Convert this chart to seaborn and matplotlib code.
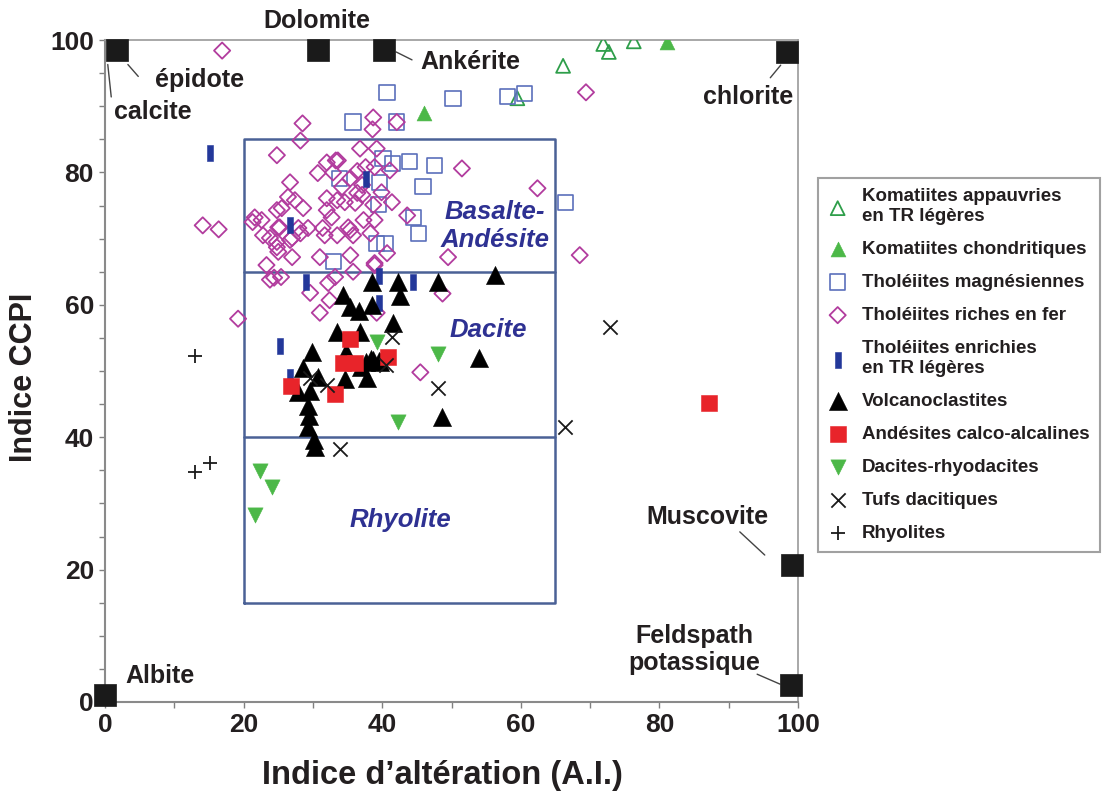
import matplotlib
matplotlib.use("Agg")
import matplotlib.pyplot as plt
import seaborn as sns
import pandas as pd
from matplotlib.ticker import MultipleLocator

# ---------------- data (Indice d'altération, Indice CCPI) ----------------
kom_app_x = [71.9, 72.7, 76.3, 66.1, 59.5]
kom_app_y = [99.4, 98.2, 99.8, 96.1, 91.2]

kom_chon_x = [81.1, 46.0]
kom_chon_y = [99.7, 89.0]

thol_mg_x = [40.1, 41.5, 43.9, 47.6, 45.9, 39.6, 39.5, 44.5, 45.2, 39.2,
             40.4, 33.0, 33.8, 66.4, 35.8, 42.1, 40.7, 50.2, 58.1, 60.5]
thol_mg_y = [82.1, 81.4, 81.7, 81.1, 77.9, 78.5, 75.1, 73.2, 70.8, 69.3,
             69.3, 66.5, 79.1, 75.4, 87.6, 87.6, 92.1, 91.2, 91.5, 91.9]

thol_fe_x = [16.9, 69.4, 51.5, 62.4, 68.5, 19.2, 14.1, 16.4, 45.5, 48.7,
             28.5, 38.7, 38.6, 42.1, 28.2, 36.8, 39.2, 24.8, 32.0, 33.6,
             30.7, 32.9, 36.4, 37.6, 38.9, 41.1, 35.4, 37.1, 34.2, 39.9,
             26.7, 26.4, 27.4, 28.6, 32.0, 33.5, 34.6, 36.4, 37.1, 36.1,
             38.7, 41.4, 32.0, 32.7, 24.8, 25.5, 21.6, 22.6, 21.3, 25.2,
             27.9, 29.3, 31.4, 35.1, 37.3, 38.9, 43.6, 22.8, 23.8, 24.8,
             27.0, 28.2, 31.7, 33.5, 35.4, 35.8, 38.3, 24.8, 25.0, 27.0,
             31.0, 35.4, 38.9, 40.7, 49.5, 23.3, 23.8, 24.4, 25.4, 32.2,
             33.2, 35.8, 32.4, 31.0, 29.6, 39.2, 38.9, 33.3, 26.7, 25.0]
thol_fe_y = [98.4, 92.1, 80.6, 77.6, 67.5, 57.9, 72.0, 71.4, 49.8, 61.7,
             87.4, 88.3, 86.5, 87.6, 84.8, 83.6, 83.6, 82.6, 81.5, 81.8,
             79.9, 80.0, 80.2, 80.8, 80.8, 80.3, 79.1, 78.1, 77.8, 77.0,
             78.5, 76.3, 75.8, 74.6, 76.1, 75.8, 75.5, 76.9, 76.6, 75.4,
             75.1, 75.5, 74.3, 73.2, 74.3, 74.6, 73.2, 72.8, 72.5, 71.7,
             71.6, 71.6, 71.6, 71.7, 72.8, 72.8, 73.5, 70.5, 70.1, 69.5,
             70.1, 70.8, 70.5, 70.5, 71.3, 70.5, 70.8, 68.7, 68.0, 67.2,
             67.2, 67.5, 66.3, 67.8, 67.2, 66.0, 63.8, 64.1, 64.2, 63.3,
             64.2, 65.0, 60.7, 58.8, 61.8, 58.8, 66.0, 81.8, 69.8, 71.7]

thol_tr_x = [15.2, 26.7, 37.6, 29.0, 39.5, 44.4, 39.5, 25.2, 26.7]
thol_tr_y = [82.9, 72.1, 79.0, 63.5, 64.4, 63.5, 60.2, 53.8, 49.1]

volc_x = [38.5, 42.3, 48.1, 56.3, 42.6, 34.4, 35.4, 36.7, 38.5, 33.5,
          36.8, 41.6, 29.9, 28.6, 30.7, 29.6, 27.9, 34.6, 37.8, 38.4,
          39.5, 37.0, 53.9, 48.6, 29.3, 29.4, 29.3, 30.1, 30.3, 34.8,
          37.7, 38.7, 39.7]
volc_y = [63.5, 63.5, 63.5, 64.5, 61.3, 61.5, 59.7, 59.1, 60.0, 55.9,
          55.9, 57.2, 52.9, 50.5, 49.1, 47.0, 46.9, 48.8, 49.0, 51.8,
          51.5, 50.6, 51.9, 43.1, 44.7, 43.2, 41.5, 39.6, 38.5, 52.9,
          51.4, 51.7, 51.4]

and_x = [26.9, 33.2, 34.4, 36.1, 35.4, 40.9, 87.1]
and_y = [47.7, 46.6, 51.2, 51.2, 54.8, 52.1, 45.1]

dac_x = [39.2, 48.1, 42.3, 22.4, 24.1, 21.6]
dac_y = [54.4, 52.5, 42.3, 34.9, 32.5, 28.2]

tuf_x = [41.4, 40.6, 32.0, 29.6, 48.1, 33.9, 72.8, 66.4]
tuf_y = [55.2, 50.9, 47.9, 48.9, 47.4, 38.2, 56.6, 41.6]

rhy_x = [13.0, 13.0, 15.1]
rhy_y = [52.3, 34.8, 36.1]

# end-member minerals
mineral_names = ["Albite", "calcite / épidote", "Dolomite", "Ankérite",
                 "chlorite", "Muscovite", "Feldspath potassique"]
mineral_x = [0.0, 1.7, 30.7, 40.3, 98.4, 99.1, 99.0]
mineral_y = [1.1, 98.5, 98.5, 98.5, 98.2, 20.7, 2.6]

# field boundaries
field_x = [20, 65]
field_y = [15, 40, 65, 85]
field_names = ["Basalte-\nAndésite", "Dacite", "Rhyolite"]

x_ticks = [0, 20, 40, 60, 80, 100]
y_ticks = [0, 20, 40, 60, 80, 100]

# ---------------- style ----------------
sns.set_theme(style="white")
plt.rcParams["font.family"] = ["Liberation Sans", "DejaVu Sans"]
plt.rcParams["font.weight"] = "bold"

fig = plt.figure(figsize=(11.03, 7.97), dpi=100)
ax = fig.add_axes([0.0952, 0.1192, 0.6283, 0.8306])

field_col = "#4a6196"
txt_blue = "#2e3192"
gx, gy = field_x, field_y
ax.plot([gx[0], gx[1], gx[1], gx[0], gx[0]], [gy[0], gy[0], gy[3], gy[3], gy[0]],
        color=field_col, lw=1.8, zorder=1)
for yy in gy[1:3]:
    ax.plot(gx, [yy, yy], color=field_col, lw=1.8, zorder=1)

bar_marker = [(-0.22, -0.5), (0.22, -0.5), (0.22, 0.5), (-0.22, 0.5), (-0.22, -0.5)]
series = [
    ("Komatiites appauvries\nen TR légères", kom_app_x, kom_app_y, "^", "#2e9e4a", 100, False, 1.3),
    ("Komatiites chondritiques", kom_chon_x, kom_chon_y, "^", "#4cb848", 115, True, 0),
    ("Tholéiites magnésiennes", thol_mg_x, thol_mg_y, "s", "#5b6fbb", 120, False, 1.2),
    ("Tholéiites riches en fer", thol_fe_x, thol_fe_y, "D", "#b23c9e", 68, False, 1.3),
    ("Tholéiites enrichies\nen TR légères", thol_tr_x, thol_tr_y, bar_marker, "#23389a", 120, True, 0),
    ("Volcanoclastites", volc_x, volc_y, "^", "#000000", 170, True, 0),
    ("Andésites calco-alcalines", and_x, and_y, "s", "#e8242a", 130, True, 0),
    ("Dacites-rhyodacites", dac_x, dac_y, "v", "#4cb848", 120, True, 0),
    ("Tufs dacitiques", tuf_x, tuf_y, "x", "#1a1a1a", 105, None, 1.3),
    ("Rhyolites", rhy_x, rhy_y, "+", "#1a1a1a", 105, None, 1.3),
]

handles = []
for i, (lab, xs, ys, mk, col, s, filled, lw) in enumerate(series):
    df = pd.DataFrame({"AI": xs, "CCPI": ys})
    if filled is None:
        sns.scatterplot(data=df, x="AI", y="CCPI", marker=mk, s=s, color=col,
                        linewidth=lw, ax=ax, label=lab, zorder=3 + i * 0.1, legend=False)
    else:
        sns.scatterplot(data=df, x="AI", y="CCPI", marker=mk, s=s, color=col,
                        edgecolor=col, linewidth=lw if lw else 0.4, ax=ax, label=lab,
                        zorder=3 + i * 0.1, legend=False)
    coll = ax.collections[-1]
    if filled is False:
        coll.set_facecolor("none")
    handles.append(coll)

# end members
mdf = pd.DataFrame({"AI": mineral_x, "CCPI": mineral_y, "Mineral": mineral_names})
sns.scatterplot(data=mdf, x="AI", y="CCPI", marker="s", s=250, color="#1a1a1a",
                edgecolor="#1a1a1a", linewidth=0.5, ax=ax, clip_on=False, zorder=6, legend=False)

# mineral labels
fs_min = 18
lab_kw = dict(fontsize=fs_min, fontweight="bold", color="#231f20", ha="center", va="center",
              annotation_clip=False)
ax.annotate("Dolomite", (30.6, 102.8), **lab_kw)
ax.annotate("épidote", (13.7, 94.0), **lab_kw)
ax.annotate("calcite", (6.9, 89.1), **lab_kw)
ax.annotate("Ankérite", (52.7, 96.7), **lab_kw)
ax.annotate("chlorite", (92.8, 91.4), **lab_kw)
ax.annotate("Muscovite", (86.9, 27.9), **lab_kw)
ax.annotate("Feldspath\npotassique", (85.0, 7.9), linespacing=1.15, **lab_kw)
ax.annotate("Albite", (7.9, 3.9), **lab_kw)

leaders = [((0.4, 0.9), (96.3, 91.4)), ((3.3, 4.8), (96.3, 94.5)),
           ((42.0, 44.3), (98.2, 97.0)), ((97.5, 96.0), (96.2, 94.3)),
           ((91.6, 95.2), (25.7, 22.2)), ((94.1, 97.4), (4.2, 2.7))]
for lx, ly in leaders:
    ax.plot(lx, ly, color="#444444", lw=1.0, clip_on=False, zorder=5)

# field names
fkw = dict(fontsize=18.5, fontweight="bold", fontstyle="italic", color=txt_blue,
           ha="center", va="center", zorder=2)
ax.text(56.3, 71.9, field_names[0], linespacing=1.2, **fkw)
ax.text(55.3, 56.2, field_names[1], **fkw)
ax.text(42.6, 27.5, field_names[2], **fkw)

# axes
ax.set_xlim(0, 100)
ax.set_ylim(0, 100)
ax.set_xticks(x_ticks)
ax.set_yticks(y_ticks)
ax.xaxis.set_minor_locator(MultipleLocator(10))
ax.yaxis.set_minor_locator(MultipleLocator(5))
ax.tick_params(axis="both", which="both", direction="out", color="#808080", width=1.0,
               bottom=True, left=True, top=False, right=False)
ax.tick_params(axis="both", which="major", length=4, labelsize=19, pad=4, labelcolor="#231f20")
ax.tick_params(axis="both", which="minor", length=4)
for lbl in ax.get_xticklabels() + ax.get_yticklabels():
    lbl.set_fontweight("bold")
ax.set_xlabel("Indice d\u2019altération (A.I.)", fontsize=23.5, fontweight="bold",
              color="#231f20")
ax.xaxis.set_label_coords(0.487, -0.088)
ax.set_ylabel("Indice CCPI", fontsize=22, fontweight="bold", color="#231f20")
ax.yaxis.set_label_coords(-0.095, 0.49)

for side in ["left", "bottom"]:
    ax.spines[side].set_color("#8a8a8a")
    ax.spines[side].set_linewidth(1.5)
for side in ["top", "right"]:
    ax.spines[side].set_color("#9a9a9a")
    ax.spines[side].set_linewidth(1.2)
    ax.spines[side].set_linestyle((0, (2, 1)))
ax.grid(False)

leg = ax.legend(handles=handles, labels=[s[0] for s in series], loc="upper left",
                bbox_to_anchor=(0.7416, 0.7767), bbox_transform=fig.transFigure,
                borderaxespad=0, frameon=True, fancybox=False,
                edgecolor="#8a8a8a", handletextpad=0.8, labelspacing=0.85,
                borderpad=0.55, handlelength=1.0, prop={"weight": "bold", "size": 13.5})
leg.get_frame().set_linewidth(1.5)
for t in leg.get_texts():
    t.set_color("#231f20")

fig.savefig("out.png", dpi=100, facecolor="white")
